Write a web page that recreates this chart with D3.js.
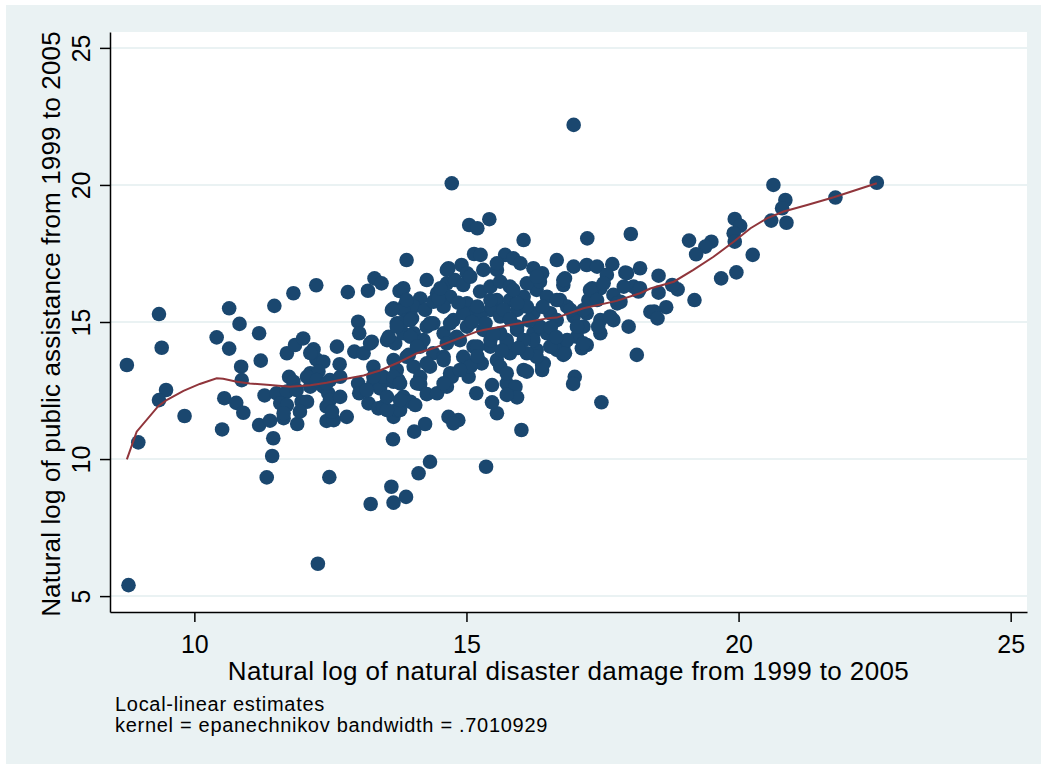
<!DOCTYPE html>
<html>
<head>
  <script src="https://d3js.org/d3.v7.min.js"></script>
  <style>
    body { margin: 0; background: #fff; }
    text { font-family: "Liberation Sans", Arial, sans-serif; fill: #000; }
    .axis path, .axis line { stroke: #000; stroke-width: 1.5; }
    .axis text { font-size: 25px; }
  </style>
</head>
<body>
  <svg class="chart"></svg>
  <script>
    // observations: [ln damage, ln public assistance]
    var points = [
      [8.76,13.43],[9.35,15.29],[9.40,14.06],[9.48,12.52],[9.35,12.15],[8.97,10.61],[9.82,11.57],[8.79,5.40],
      [10.41,14.44],[10.64,15.50],[10.64,14.03],[10.83,14.93],[10.86,13.37],[10.87,12.88],[10.55,12.22],[10.77,12.05],[10.90,11.69],[10.51,11.08],
      [11.19,14.59],[11.22,13.59],[11.29,12.32],[11.47,15.59],[11.82,16.05],[12.24,16.34],[12.82,16.09],[13.19,16.14],[13.31,16.59],[13.44,16.41],[13.77,16.13],[13.90,17.26],
      [11.19,11.24],[11.39,11.40],[11.45,10.76],[11.43,10.11],[11.33,9.33],[12.48,9.34],[12.27,6.18],[13.24,8.36],[13.62,8.99],[13.66,8.41],[13.89,8.62],[13.65,10.72],
      [12.80,11.54],[12.43,11.39],[12.56,11.42],[11.89,11.28],[11.64,11.49],
      [11.70,13.86],[11.85,14.16],[12.00,14.40],[12.19,14.00],[12.24,13.64],[12.37,13.55],[12.62,14.10],[12.67,13.46],[12.13,13.13],[12.28,13.19],[11.74,13.00],[11.82,12.82],
      [11.51,12.40],[11.70,12.46],[11.58,12.03],[11.70,11.97],[11.64,11.67],[11.97,12.09],[12.07,12.09],[11.94,11.73],[11.88,12.52],[12.13,12.64],[12.37,12.64],[12.46,12.40],[12.49,12.15],[12.68,12.27],[12.43,11.91],[12.53,11.73],
      [13.01,15.01],[13.03,14.59],[12.94,13.92],[13.11,13.86],[13.26,14.28],[13.29,13.37],[13.01,12.76],[13.03,12.40],[13.20,12.03],[13.38,11.85],[13.29,12.76],[13.41,12.58],[13.54,12.88],[13.66,13.61],[13.72,13.25],[13.75,12.88],[13.84,12.27],[13.66,11.54],[13.72,11.79],
      [13.54,14.34],[13.69,14.22],[13.66,15.50],[13.72,14.95],[13.87,15.62],[13.84,14.59],[13.90,13.73],
      [12.49,12.88],[12.68,13.00],[12.13,13.87],
      [16.97,22.19],[14.73,20.06],[15.05,18.54],[15.20,18.42],[15.42,18.75],[16.05,17.99],[17.22,18.05],[18.02,18.21],
      [15.14,17.48],[15.26,17.45],[16.66,17.26],[14.27,16.53],[15.71,17.45],[15.86,17.32],[15.99,17.14],[14.67,16.96],[14.91,17.08],[15.01,16.78],[15.56,16.90],[15.56,17.14],[16.23,16.96],[16.39,16.78],[16.97,17.02],[17.21,17.08],[17.40,17.02],[17.68,17.11],[18.19,16.96],[17.92,16.80],[16.81,16.59],[16.78,16.35],[17.58,16.72],[17.46,16.23],[17.31,16.23],[17.24,15.80],[17.70,15.99],[17.83,15.74],[18.07,16.29],[18.16,16.11],[17.98,14.83],[18.13,13.80],[18.38,15.37],
      [13.84,16.23],[14.64,16.41],[14.79,16.53],[14.94,16.35],[14.15,15.86],[14.46,16.05],[14.70,15.92],[14.03,15.56],[13.84,15.44],[14.24,15.44],[14.39,15.74],[14.58,15.56],[15.01,15.68],[15.07,15.32],[15.25,16.11],[15.44,16.29],[15.62,16.47],[15.80,16.29],[15.56,15.80],[15.80,15.80],[16.05,15.92],[16.29,16.17],[16.48,15.92],[16.35,16.47],[16.72,15.80],[16.85,15.56],[15.44,15.44],[15.93,15.44],[15.62,15.20],[16.23,15.32],[16.54,15.32],[16.97,15.20],[17.21,15.32],[17.46,15.07],[17.70,15.07],[17.46,14.59],[17.15,14.83],[17.03,14.46],[17.21,14.16],[17.12,14.04],[16.78,14.10],[16.78,13.80],[16.48,14.59],[16.23,14.59],[16.29,13.98],[16.42,13.49],[16.05,13.25],[15.93,14.71],[15.74,14.34],[15.80,13.86],[15.56,13.61],[15.25,15.20],[15.31,14.71],[15.01,14.83],[14.88,14.34],[15.13,14.10],[15.44,14.10],[15.28,13.49],[15.62,13.37],[15.01,13.49],[14.70,13.13],[14.39,14.95],[14.27,14.83],[13.90,15.07],[14.03,14.59],[14.58,14.59],[14.76,15.07],[14.15,14.10],[14.39,13.86],[14.58,13.73],[14.03,13.37],[14.33,13.37],[14.15,13.00],[16.99,13.00],
      [17.48,12.07],[16.96,12.74],[16.01,11.06],[15.36,9.72],[15.56,11.67],[15.47,12.07],[15.47,12.70],[15.18,12.40],[14.85,11.42],[14.67,11.54],[14.76,11.30],[14.24,11.28],[14.04,11.00],[14.33,9.90],[14.12,9.48],[14.15,12.74],[14.27,12.37],[14.46,12.40],[14.64,12.64],[14.73,13.00],[15.04,13.00],[15.74,12.76],[15.90,12.64],[15.93,12.25],[15.74,12.34],[16.11,13.19],[16.39,13.25],[13.97,12.09],[14.06,11.97],[13.78,11.79],
      [22.54,20.08],[21.78,19.54],[20.64,20.00],[20.86,19.45],[20.80,19.15],[20.88,18.62],[20.60,18.70],[19.93,18.76],[20.03,18.51],[19.91,18.24],[19.93,17.93],[20.26,17.45],[19.96,16.81],[19.68,16.59],[19.50,17.93],[19.39,17.75],[19.22,17.47],[19.09,17.97],[19.19,15.80],[18.88,16.19],[18.78,16.35],[18.53,16.69],[18.53,16.07],[18.67,15.54],[18.45,15.38],[18.51,15.13],[18.19,16.23],
      [14.49,15.86],[14.64,16.90],[13.57,14.46],[13.78,14.95],[14.00,15.13],[14.33,14.95],[14.21,14.34],[13.23,14.22],[13.94,13.80],[14.27,13.49],[13.47,13.00],[13.66,12.82],[13.47,11.91],[13.78,12.15],[14.70,13.00],
      [15.74,13.13],[16.39,13.43],[16.66,13.98],[16.81,13.86],[17.15,14.22],[16.78,16.53],[17.27,16.17],[17.52,16.41],[17.89,16.29],[17.95,16.78],[17.77,15.68],[17.40,15.80],[17.15,15.44],[17.64,15.20],[17.42,14.83],[17.03,14.83],[16.85,14.34],[16.54,14.10],[16.29,13.73],[16.11,13.86],[16.23,14.34],
      [15.74,14.22],[15.44,14.34],[15.20,14.10],[14.94,13.73],[15.07,13.37],[14.88,13.25],[14.58,13.61],[14.64,14.22],[14.82,14.46],[15.62,14.59],[15.93,14.83],[16.05,14.34],[16.35,14.83],[16.66,15.07],[16.91,15.44],[16.66,15.80],[16.11,15.56],[15.93,15.68],[15.68,15.44],[15.44,15.80],[15.20,15.56],[14.94,15.32],[14.70,14.95],[15.86,16.17],[16.11,16.41],[16.29,16.65],[15.31,16.90],[15.07,16.65],[14.52,16.23],[13.90,15.80],[13.63,15.44],
      [13.97,15.07],[13.72,14.83],[13.97,14.46],[14.09,14.10],[13.66,13.00],[13.78,12.76],[14.09,12.76],[14.58,12.76],[13.54,11.79],[13.54,12.27],[13.17,12.52],[13.29,13.00],[12.07,13.00],[12.25,12.88],[12.43,12.76],
      [15.35,14.95],[15.50,14.55],[15.80,15.10],[16.15,15.05],[16.40,15.55],[15.10,15.00],[14.85,15.70],[15.65,13.95],[15.95,14.05],[16.55,14.80],[16.65,14.45],[15.20,13.75]
    ];

    // local-linear (lpoly) fit
    var fit = [
      [8.76,9.99],[8.94,11.00],[9.34,11.94],[9.49,12.15],[9.80,12.49],[10.10,12.74],[10.41,12.95],[10.53,12.93],
      [10.78,12.82],[11.02,12.76],[11.39,12.70],[11.76,12.64],[12.13,12.69],[12.43,12.78],[12.74,12.91],[13.11,13.05],
      [13.41,13.23],[13.78,13.55],[14.09,13.86],[14.39,14.04],[14.70,14.28],[15.19,14.65],[15.31,14.71],[15.93,14.94],
      [16.54,15.15],[16.66,15.16],[17.15,15.50],[17.76,15.77],[18.19,16.05],[18.38,16.22],[18.81,16.47],[19.17,16.90],
      [19.54,17.38],[19.91,17.93],[20.22,18.42],[20.52,18.78],[20.83,19.03],[21.26,19.27],[21.75,19.55],[22.54,20.06]
    ];

    var xTicks = [10, 15, 20, 25];
    var yTicks = [5, 10, 15, 20, 25];
    var xTitle = 'Natural log of natural disaster damage from 1999 to 2005';
    var yTitle = 'Natural log of public assistance from 1999 to 2005';
    var notes = ['Local-linear estimates', 'kernel = epanechnikov bandwidth = .7010929'];

    var W = 1041, H = 764;
    var plot = { left: 110, right: 1027, top: 32, bottom: 612 };

    var svg = d3.select('.chart').attr('width', W).attr('height', H);

    // graph region + plot region
    svg.append('rect').attr('x', 6).attr('y', 5).attr('width', W - 6).attr('height', H - 5).attr('fill', '#eaf2f3');
    svg.append('rect')
      .attr('x', plot.left).attr('y', plot.top)
      .attr('width', plot.right - plot.left).attr('height', plot.bottom - plot.top)
      .attr('fill', '#fff');

    var x = d3.scaleLinear().domain([8.45, 25.30]).range([plot.left, plot.right]);
    var y = d3.scaleLinear().domain([4.42, 25.58]).range([plot.bottom, plot.top]);

    // grid
    svg.append('g').selectAll('line')
      .data(yTicks).enter().append('line')
      .attr('x1', plot.left).attr('x2', plot.right)
      .attr('y1', function (d) { return y(d); }).attr('y2', function (d) { return y(d); })
      .attr('stroke', '#eaf2f3').attr('stroke-width', 2);

    // markers
    svg.append('g').selectAll('circle')
      .data(points).enter().append('circle')
      .attr('cx', function (d) { return x(d[0]); })
      .attr('cy', function (d) { return y(d[1]); })
      .attr('r', 7.3)
      .attr('fill', '#1a476f');

    // fitted line
    var line = d3.line()
      .x(function (d) { return x(d[0]); })
      .y(function (d) { return y(d[1]); });
    svg.append('path').datum(fit)
      .attr('d', line)
      .attr('fill', 'none')
      .attr('stroke', '#90353b')
      .attr('stroke-width', 2);

    // axes
    var xAxis = svg.append('g').attr('class', 'axis')
      .attr('transform', 'translate(0,' + plot.bottom + ')')
      .call(d3.axisBottom(x).tickValues(xTicks).tickSize(10).tickSizeOuter(0).tickPadding(8));
    xAxis.selectAll('text').attr('dy', null).attr('y', 41);

    var yAxis = svg.append('g').attr('class', 'axis')
      .attr('transform', 'translate(' + plot.left + ',0)')
      .call(d3.axisLeft(y).tickValues(yTicks).tickSize(10).tickSizeOuter(0));
    yAxis.selectAll('text')
      .attr('x', 0).attr('y', -20).attr('dy', null)
      .attr('transform', 'rotate(-90)')
      .style('text-anchor', 'middle');

    // titles
    svg.append('text')
      .attr('x', (plot.left + plot.right) / 2).attr('y', 680)
      .attr('text-anchor', 'middle')
      .style('font-size', '26px').style('letter-spacing', '0.4px')
      .text(xTitle);
    svg.append('text')
      .attr('transform', 'translate(60,' + ((plot.top + plot.bottom) / 2 + 2) + ') rotate(-90)')
      .attr('text-anchor', 'middle')
      .style('font-size', '26px').style('letter-spacing', '0.15px')
      .text(yTitle);

    svg.append('g').selectAll('text')
      .data(notes).enter().append('text')
      .attr('x', 115)
      .attr('y', function (d, i) { return 711 + i * 21; })
      .style('font-size', '20px').style('letter-spacing', '0.7px')
      .text(function (d) { return d; });
  </script>
</body>
</html>
